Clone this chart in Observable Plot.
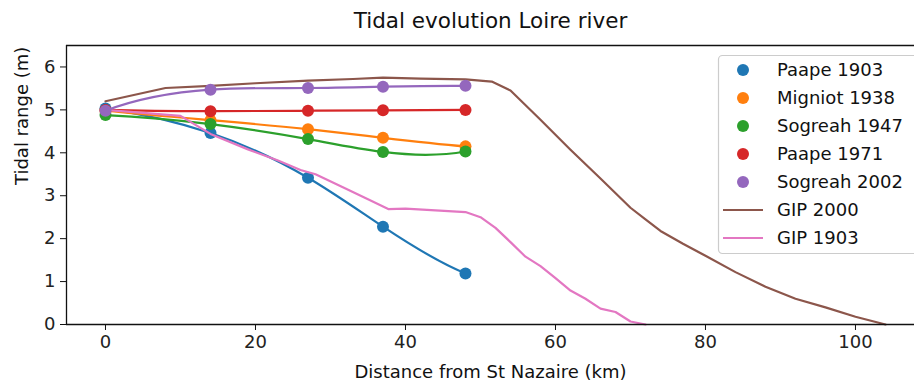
<!DOCTYPE html>
<html>
<head>
<meta charset="utf-8">
<script src="https://cdn.jsdelivr.net/npm/d3@7"></script>
<script src="https://cdn.jsdelivr.net/npm/@observablehq/plot@0.6"></script>
<style>
  html, body { margin: 0; padding: 0; background: white; }
  #chart { position: relative; width: 914px; height: 381px; overflow: hidden; }
</style>
</head>
<body>
<div id="chart"></div>
<script>
// ---- data ----
const titleText = "Tidal evolution Loire river";
const xLabel = "Distance from St Nazaire (km)";
const yLabel = "Tidal range (m)";
const xTicks = [0, 20, 40, 60, 80, 100];
const yTicks = [0, 1, 2, 3, 4, 5, 6];

const stations = [0, 14, 27, 37, 48];
const paape1903 = [5.03, 4.46, 3.42, 2.28, 1.19];
const migniot1938 = [4.98, 4.76, 4.55, 4.35, 4.15];
const sogreah1947 = [4.88, 4.67, 4.32, 4.02, 4.03];
const paape1971 = [5.0, 4.97, 4.98, 4.99, 5.0];
const sogreah2002 = [4.98, 5.47, 5.51, 5.54, 5.56];

const gip2000Km = [0, 8, 14, 20, 27, 33, 37, 42, 48, 51.5, 54, 58, 62, 66, 70, 72, 74, 77, 80, 84, 88, 92, 96, 100, 104];
const gip2000Range = [5.2, 5.51, 5.56, 5.62, 5.68, 5.72, 5.75, 5.73, 5.71, 5.66, 5.45, 4.77, 4.07, 3.4, 2.72, 2.45, 2.18, 1.88, 1.6, 1.22, 0.88, 0.6, 0.4, 0.18, 0.0];

const gip1903Km = [0, 10, 14, 19, 23, 26, 28, 32, 35, 37.7, 40, 44, 48, 50, 52, 54, 56, 58, 60, 62, 64, 66, 68, 70, 72];
const gip1903Range = [5.0, 4.86, 4.44, 4.08, 3.82, 3.6, 3.5, 3.17, 2.92, 2.69, 2.7, 2.66, 2.62, 2.5, 2.25, 1.92, 1.58, 1.36, 1.08, 0.79, 0.6, 0.37, 0.29, 0.07, 0.0];

const surveyNames = ["Paape 1903", "Migniot 1938", "Sogreah 1947", "Paape 1971", "Sogreah 2002"];
const surveyValues = [paape1903, migniot1938, sogreah1947, paape1971, sogreah2002];
const surveyColors = ["#1f77b4", "#ff7f0e", "#2ca02c", "#d62728", "#9467bd"];
const lineNames = ["GIP 2000", "GIP 1903"];
const lineColors = ["#8c564b", "#e377c2"];

// ---- not-a-knot cubic spline curve (like scipy interp1d kind="cubic") ----
function solve(A, b) {
  const n = b.length;
  for (let c = 0; c < n; c++) {
    let p = c;
    for (let r = c + 1; r < n; r++) if (Math.abs(A[r][c]) > Math.abs(A[p][c])) p = r;
    [A[c], A[p]] = [A[p], A[c]]; [b[c], b[p]] = [b[p], b[c]];
    for (let r = c + 1; r < n; r++) {
      const f = A[r][c] / A[c][c];
      for (let k = c; k < n; k++) A[r][k] -= f * A[c][k];
      b[r] -= f * b[c];
    }
  }
  const x = new Array(n).fill(0);
  for (let r = n - 1; r >= 0; r--) {
    let s = b[r];
    for (let k = r + 1; k < n; k++) s -= A[r][k] * x[k];
    x[r] = s / A[r][r];
  }
  return x;
}
function curveNotAKnot(context) {
  let xs, ys;
  return {
    areaStart() {}, areaEnd() {},
    lineStart() { xs = []; ys = []; },
    point(x, y) { xs.push(+x); ys.push(+y); },
    lineEnd() {
      const n = xs.length;
      if (n === 0) return;
      context.moveTo(xs[0], ys[0]);
      if (n < 4) { for (let i = 1; i < n; i++) context.lineTo(xs[i], ys[i]); return; }
      const h = []; for (let i = 0; i < n - 1; i++) h.push(xs[i + 1] - xs[i]);
      const A = Array.from({length: n}, () => new Array(n).fill(0));
      const b = new Array(n).fill(0);
      A[0][0] = h[1]; A[0][1] = -(h[0] + h[1]); A[0][2] = h[0];
      for (let i = 1; i < n - 1; i++) {
        A[i][i - 1] = h[i - 1]; A[i][i] = 2 * (h[i - 1] + h[i]); A[i][i + 1] = h[i];
        b[i] = 6 * ((ys[i + 1] - ys[i]) / h[i] - (ys[i] - ys[i - 1]) / h[i - 1]);
      }
      A[n - 1][n - 3] = h[n - 2]; A[n - 1][n - 2] = -(h[n - 3] + h[n - 2]); A[n - 1][n - 1] = h[n - 3];
      const M = solve(A, b);
      for (let i = 0; i < n - 1; i++) {
        const hi = h[i], d = (ys[i + 1] - ys[i]) / hi;
        const s0 = d - hi * (2 * M[i] + M[i + 1]) / 6;
        const s1 = d + hi * (M[i] + 2 * M[i + 1]) / 6;
        context.bezierCurveTo(xs[i] + hi / 3, ys[i] + s0 * hi / 3, xs[i + 1] - hi / 3, ys[i + 1] - s1 * hi / 3, xs[i + 1], ys[i + 1]);
      }
    }
  };
}

// ---- tables ----
const surveyRows = surveyValues.map(vals => stations.map((km, i) => ({km, range: vals[i]})));
const gip2000 = gip2000Km.map((km, i) => ({km, range: gip2000Range[i]}));
const gip1903 = gip1903Km.map((km, i) => ({km, range: gip1903Range[i]}));

function surveyMarks(k) {
  return [
    Plot.line(surveyRows[k], {x: "km", y: "range", curve: curveNotAKnot, stroke: surveyColors[k], strokeWidth: 2.2}),
    Plot.dot(surveyRows[k], {x: "km", y: "range", r: 6, fill: surveyColors[k], stroke: "none"})
  ];
}

const svg = Plot.plot({
  width: 914,
  height: 381,
  marginLeft: 66,
  marginRight: 0,
  marginTop: 45,
  marginBottom: 57,
  style: {fontFamily: "DejaVu Sans", fontSize: "18px", color: "#222", background: "white"},
  x: {domain: [-5.2, 107.87]},
  y: {domain: [0, 6.5]},
  marks: [
    ...surveyMarks(0),
    ...surveyMarks(1),
    ...surveyMarks(2),
    ...surveyMarks(3),
    Plot.line(gip2000, {x: "km", y: "range", stroke: lineColors[0], strokeWidth: 2.2}),
    Plot.line(gip1903, {x: "km", y: "range", stroke: lineColors[1], strokeWidth: 2.2}),
    ...surveyMarks(4),
    Plot.ruleY([0, 6.5], {stroke: "#111", strokeWidth: 1.3}),
    Plot.ruleX([-5.2], {stroke: "#111", strokeWidth: 1.3}),
    Plot.axisX({ticks: xTicks, tickFormat: d3.format("d"), tickSize: 6, tickPadding: 5, label: null, fontSize: 18, stroke: "#111"}),
    Plot.axisY({ticks: yTicks, tickFormat: d3.format("d"), tickSize: 6, tickPadding: 5, label: null, fontSize: 18, stroke: "#111"}),
    Plot.text([titleText], {text: d => d, frameAnchor: "top", dy: -24, lineAnchor: "middle", fontSize: 21.5, fill: "#111"}),
    Plot.text([xLabel], {text: d => d, frameAnchor: "bottom", dy: 48, lineAnchor: "middle", fontSize: 18, fill: "#111"}),
    Plot.text([yLabel], {text: d => d, frameAnchor: "left", dx: -44, rotate: -90, lineAnchor: "middle", fontSize: 18, fill: "#111"})
  ]
});

document.getElementById("chart").appendChild(svg);

// ---- legend ----
const lg = d3.select(svg).append("g")
  .attr("font-family", "DejaVu Sans").attr("font-size", 18).attr("text-anchor", "start");
const legendItems = [
  ...surveyNames.map((n, i) => ({name: n, color: surveyColors[i], kind: "dot"})),
  ...lineNames.map((n, i) => ({name: n, color: lineColors[i], kind: "line"}))
];
lg.append("rect")
  .attr("x", 718.5).attr("y", 55.5)
  .attr("width", 230).attr("height", 198)
  .attr("rx", 4)
  .attr("fill", "white").attr("fill-opacity", 0.85)
  .attr("stroke", "#cccccc").attr("stroke-width", 1.2);
legendItems.forEach((it, i) => {
  const cy = 70 + i * 28;
  if (it.kind === "dot") {
    lg.append("circle").attr("cx", 743).attr("cy", cy).attr("r", 6).attr("fill", it.color);
  } else {
    lg.append("line").attr("x1", 723).attr("x2", 763).attr("y1", cy).attr("y2", cy)
      .attr("stroke", it.color).attr("stroke-width", 2.2);
  }
  lg.append("text").attr("x", 777).attr("y", cy).attr("dy", "0.35em")
    .attr("text-anchor", "start").attr("fill", "#111").text(it.name);
});
</script>
</body>
</html>
